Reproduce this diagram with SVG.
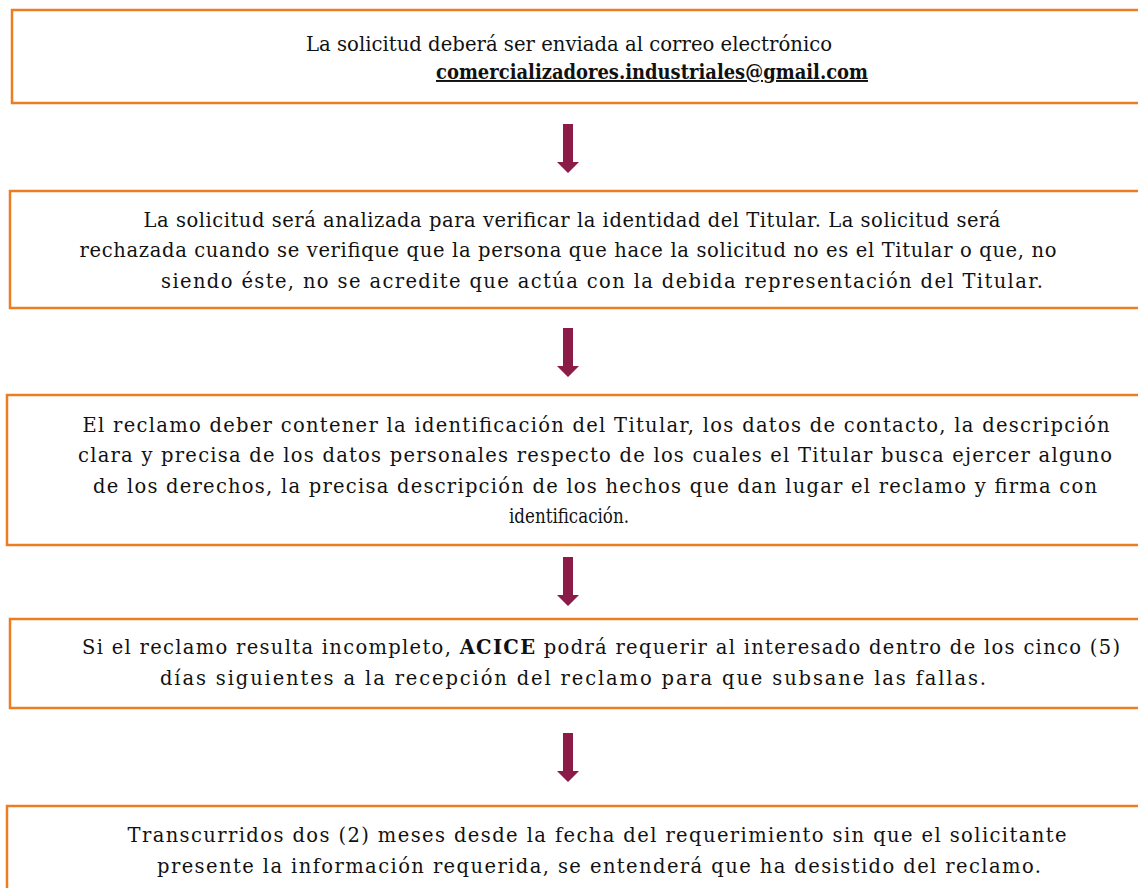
<svg xmlns="http://www.w3.org/2000/svg" width="1138" height="888" viewBox="0 0 1138 888">
<style>
.box{fill:#fff;stroke:#ED7D22;stroke-width:2.5}
.t{font-family:"DejaVu Serif","Liberation Serif",serif;font-size:19.5px;fill:#111;text-anchor:middle}
.b{font-weight:bold}
.arr{fill:#8B1C48}
</style>
<rect width="1138" height="888" fill="#fff"/>
<g id="node1">
<rect class="box" x="12" y="10" width="1140" height="93"/>
<text class="t" x="569" y="51" textLength="526" lengthAdjust="spacingAndGlyphs">La solicitud deberá ser enviada al correo electrónico</text>
<text class="t b" x="652" y="79" textLength="432" lengthAdjust="spacingAndGlyphs" text-decoration="underline">comercializadores.industriales@gmail.com</text>
</g>
<g id="node2">
<rect class="box" x="10" y="191" width="1140" height="117"/>
<text class="t" x="572" y="227" textLength="857">La solicitud será analizada para verificar la identidad del Titular. La solicitud será</text>
<text class="t" x="568" y="257" textLength="977">rechazada cuando se verifique que la persona que hace la solicitud no es el Titular o que, no</text>
<text class="t" x="602" y="288" textLength="882">siendo éste, no se acredite que actúa con la debida representación del Titular.</text>
</g>
<g id="node3">
<rect class="box" x="7" y="395" width="1140" height="150"/>
<text class="t" x="596" y="432" textLength="1027">El reclamo deber contener la identificación del Titular, los datos de contacto, la descripción</text>
<text class="t" x="595" y="462" textLength="1034">clara y precisa de los datos personales respecto de los cuales el Titular busca ejercer alguno</text>
<text class="t" x="595" y="493" textLength="1004">de los derechos, la precisa descripción de los hechos que dan lugar el reclamo y firma con</text>
<text class="t" x="569" y="523" textLength="120" lengthAdjust="spacingAndGlyphs">identificación.</text>
</g>
<g id="node4">
<rect class="box" x="10" y="619" width="1140" height="89"/>
<text class="t" x="601" y="654" textLength="1038">Si el reclamo resulta incompleto, <tspan class="b">ACICE</tspan> podrá requerir al interesado dentro de los cinco (5)</text>
<text class="t" x="573" y="685" textLength="826">días siguientes a la recepción del reclamo para que subsane las fallas.</text>
</g>
<g id="node5">
<rect class="box" x="7" y="806" width="1140" height="100"/>
<text class="t" x="597" y="842" textLength="939">Transcurridos dos (2) meses desde la fecha del requerimiento sin que el solicitante</text>
<text class="t" x="599" y="873" textLength="884">presente la información requerida, se entenderá que ha desistido del reclamo.</text>
</g>
<g id="connectors">
<path class="arr" d="M563,124 H573 V162 H579 L568,173 L557,162 H563 Z"/>
<path class="arr" d="M563,328 H573 V366 H579 L568,377 L557,366 H563 Z"/>
<path class="arr" d="M563,557 H573 V595 H579 L568,606 L557,595 H563 Z"/>
<path class="arr" d="M563,733 H573 V771 H579 L568,782 L557,771 H563 Z"/>
</g>
</svg>
